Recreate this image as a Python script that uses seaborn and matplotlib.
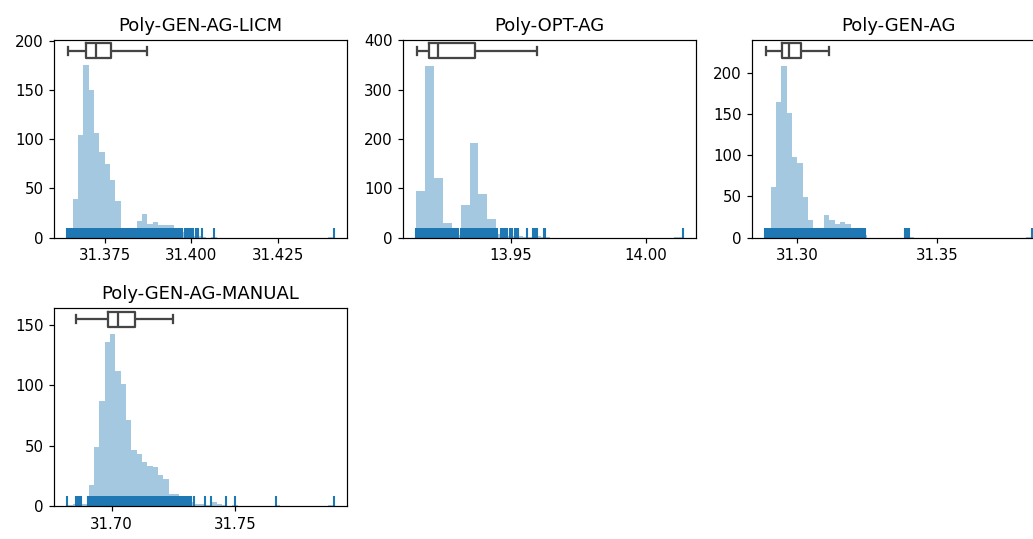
import numpy as np
import matplotlib
matplotlib.use("Agg")
import matplotlib.pyplot as plt
import seaborn as sns

# panel titles
titles = ["Poly-GEN-AG-LICM", "Poly-OPT-AG", "Poly-GEN-AG", "Poly-GEN-AG-MANUAL"]

# histogram counts per bin, bins span min..max of the data
licm_counts = [3, 39, 104, 175, 150, 106, 87, 75, 59, 37, 4, 3, 8, 17, 24, 14, 16, 13, 13, 13,
               8, 6, 3, 2, 2, 1, 0, 1, 0, 0, 0, 0, 0, 0, 0, 0, 0, 0, 0, 0,
               0, 0, 0, 0, 0, 0, 0, 0, 0, 1]
opt_counts = [94, 349, 120, 29, 5, 67, 191, 88, 37, 8, 4, 3, 1, 3, 2,
              0, 0, 0, 0, 0, 0, 0, 0, 0, 0, 0, 0, 0, 0, 1]
gen_counts = [3, 61, 165, 208, 152, 98, 91, 49, 21, 6, 5, 27, 21, 17, 19, 16, 8, 5, 3, 0,
              0, 0, 0, 0, 0, 0, 2, 1, 0, 0, 0, 0, 0, 0, 0, 0, 0, 0, 0, 0,
              0, 0, 0, 0, 0, 0, 0, 0, 0, 1]
manual_counts = [1, 2, 2, 2, 17, 49, 87, 136, 142, 112, 101, 71, 46, 43, 36, 33, 32, 26, 22, 10,
                 10, 6, 4, 3, 2, 2, 1, 3, 2, 1, 0, 1, 0, 0, 0, 0, 0, 0, 0, 1,
                 0, 0, 0, 0, 0, 0, 0, 0, 0, 1]

licm_range = (31.3643, 31.4409)
opt_range = (13.9152, 14.0135)
gen_range = (31.2886, 31.3837)
manual_range = (31.6820, 31.7902)

# rug positions
licm_rug = [31.3643, 31.3647,
            31.3650, 31.3654, 31.3658, 31.3662, 31.3666, 31.3670, 31.3674, 31.3678, 31.3682, 31.3686,
            31.3690, 31.3694, 31.3698, 31.3702, 31.3706, 31.3710, 31.3714, 31.3718, 31.3722, 31.3726,
            31.3730, 31.3734, 31.3738, 31.3742, 31.3746, 31.3750, 31.3754, 31.3758, 31.3762, 31.3766,
            31.3770, 31.3774, 31.3778, 31.3782, 31.3786, 31.3790, 31.3794, 31.3798, 31.3802, 31.3806,
            31.3811, 31.3815,
            31.3818, 31.3822, 31.3826, 31.3830, 31.3834, 31.3838, 31.3842, 31.3846, 31.3850, 31.3854,
            31.3858, 31.3862, 31.3866, 31.3870, 31.3874, 31.3878, 31.3882, 31.3886, 31.3890, 31.3894,
            31.3898, 31.3902, 31.3906, 31.3910, 31.3914, 31.3918, 31.3922, 31.3926, 31.3930, 31.3934,
            31.3938, 31.3942, 31.3946, 31.3950, 31.3954, 31.3958, 31.3962, 31.3966, 31.3970, 31.3974,
            31.3982, 31.3987, 31.3994, 31.3999, 31.4004, 31.4014, 31.4018, 31.4029, 31.4065, 31.4409]
opt_rug = [13.9152, 13.9157, 13.9162, 13.9167, 13.9172, 13.9177, 13.9182, 13.9187, 13.9192, 13.9197,
           13.9202, 13.9207, 13.9212, 13.9217, 13.9222, 13.9227, 13.9232, 13.9237, 13.9242, 13.9247,
           13.9252, 13.9257, 13.9262, 13.9267, 13.9272, 13.9277, 13.9282,
           13.9291, 13.9297, 13.9306,
           13.9316, 13.9321, 13.9326, 13.9331, 13.9336, 13.9341, 13.9346, 13.9351, 13.9356, 13.9361,
           13.9366, 13.9371, 13.9376, 13.9381, 13.9386, 13.9391, 13.9396, 13.9401, 13.9406, 13.9411,
           13.9416, 13.9421, 13.9426, 13.9431, 13.9436, 13.9441, 13.9446, 13.9451,
           13.9465, 13.9471, 13.9480, 13.9486, 13.9498, 13.9504, 13.9517, 13.9522, 13.9528, 13.9560,
           13.9583, 13.9589, 13.9598, 13.9624, 13.9628, 14.0135]
gen_rug = [31.2886, 31.2891, 31.2896, 31.2901, 31.2906, 31.2911, 31.2916, 31.2921, 31.2926, 31.2931,
           31.2936, 31.2941, 31.2946, 31.2951, 31.2956, 31.2961, 31.2966, 31.2971, 31.2976, 31.2981,
           31.2986, 31.2991, 31.2996, 31.3001, 31.3006, 31.3011, 31.3016, 31.3021, 31.3026, 31.3031,
           31.3036, 31.3041, 31.3046, 31.3051, 31.3056, 31.3061, 31.3066, 31.3071, 31.3076, 31.3081,
           31.3086, 31.3091, 31.3096, 31.3101, 31.3106, 31.3111, 31.3116, 31.3121, 31.3126, 31.3131,
           31.3136, 31.3141, 31.3146, 31.3151, 31.3156, 31.3161, 31.3166, 31.3171, 31.3176, 31.3181,
           31.3186, 31.3191, 31.3196, 31.3201, 31.3206, 31.3211, 31.3216, 31.3221, 31.3226, 31.3231,
           31.3236, 31.3241,
           31.3386, 31.3392, 31.3400, 31.3837]
manual_rug = [31.6820, 31.6856, 31.6861, 31.6869, 31.6876,
              31.6903, 31.6909, 31.6915, 31.6921, 31.6927, 31.6933, 31.6939, 31.6945, 31.6951, 31.6957,
              31.6963, 31.6969, 31.6975, 31.6981, 31.6987, 31.6993, 31.6999, 31.7005, 31.7011, 31.7017,
              31.7023, 31.7029, 31.7035, 31.7041, 31.7047, 31.7053, 31.7059, 31.7065, 31.7071, 31.7077,
              31.7083, 31.7089, 31.7095, 31.7101, 31.7107, 31.7113, 31.7119, 31.7125, 31.7131, 31.7137,
              31.7143, 31.7149, 31.7155, 31.7161, 31.7167, 31.7173, 31.7179, 31.7185, 31.7191, 31.7197,
              31.7203, 31.7209, 31.7215, 31.7221, 31.7227, 31.7233, 31.7239, 31.7245, 31.7251, 31.7257,
              31.7263, 31.7269, 31.7275, 31.7281, 31.7287, 31.7293, 31.7299, 31.7305,
              31.7316, 31.7322, 31.7333, 31.7380, 31.7404, 31.7466, 31.7500, 31.7666, 31.7902]

# box stats: whisker low, q1, median, q3, whisker high
licm_box = [31.3645, 31.3696, 31.3724, 31.3768, 31.3871]
opt_box = [13.9153, 13.9199, 13.9233, 13.9367, 13.9598]
gen_box = [31.2888, 31.2945, 31.2969, 31.3014, 31.3114]
manual_box = [31.6857, 31.6985, 31.7026, 31.7095, 31.7250]

# axis ticks
licm_ticks = ["31.375", "31.400", "31.425"]
opt_ticks = ["13.95", "14.00"]
gen_ticks = ["31.30", "31.35"]
manual_ticks = ["31.70", "31.75"]
y_tops = [200.7, 401, 240.2, 163.4]

panels = [
    (licm_counts, licm_range, licm_rug, licm_box, licm_ticks),
    (opt_counts, opt_range, opt_rug, opt_box, opt_ticks),
    (gen_counts, gen_range, gen_rug, gen_box, gen_ticks),
    (manual_counts, manual_range, manual_rug, manual_box, manual_ticks),
]

fig, axes = plt.subplots(2, 3, figsize=(1033 / 108, 539 / 108), dpi=108)
fig.subplots_adjust(left=0.0523, right=1.0116, top=0.9258, bottom=0.0612,
                    wspace=0.191, hspace=0.358)

for i, (counts, rng, rug, box, ticks) in enumerate(panels):
    ax = axes.flat[i]
    nbins = len(counts)
    width = (rng[1] - rng[0]) / nbins
    centers = [rng[0] + width * (k + 0.5) for k in range(nbins)]
    sns.histplot(x=centers, weights=counts, bins=nbins, binrange=rng, ax=ax,
                 color="C0", alpha=0.4, linewidth=0)
    sns.rugplot(x=rug, height=0.05, ax=ax, color="C0", linewidth=1.4)

    bax = ax.inset_axes([0, 0.895, 1, 0.1], sharex=ax)
    sns.boxplot(x=box, whis=np.inf, ax=bax, width=0.76, fill=False,
                color="0.27", linewidth=1.5)
    bax.set_ylim(0.5, -0.5)
    bax.axis("off")

    ax.set_ylim(0, y_tops[i])
    ax.set_xticks([float(t) for t in ticks], labels=ticks)
    ax.set_ylabel("")
    ax.set_xlabel("")
    ax.set_title(titles[i])

axes[1, 1].set_visible(False)
axes[1, 2].set_visible(False)

fig.savefig("out.png", dpi=108)
